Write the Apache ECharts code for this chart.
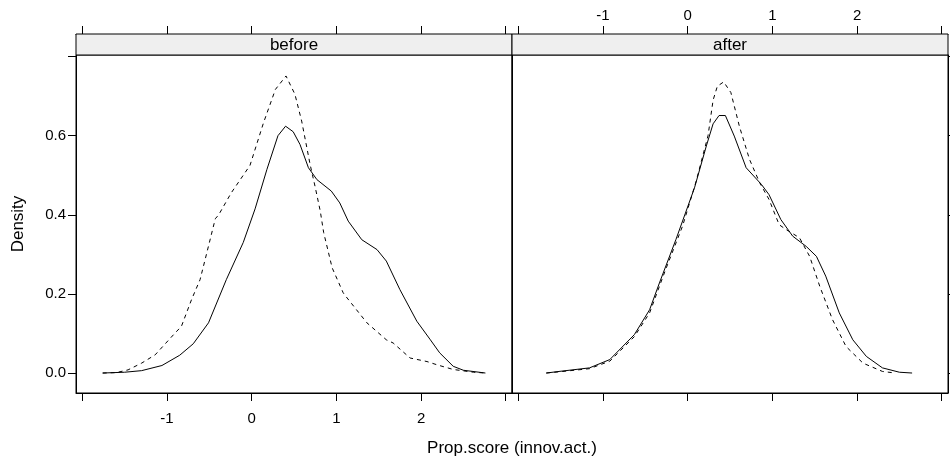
<!DOCTYPE html>
<html>
<head>
<meta charset="utf-8">
<script src="https://cdn.jsdelivr.net/npm/echarts@6/dist/echarts.min.js"></script>
<style>
html,body{margin:0;padding:0;background:#fff;}
#c{width:950px;height:465px;}
</style>
</head>
<body>
<div id="c"></div>
<script>
// Panel names
var panels = ["before", "after"];
// Tick values / labels
var xTicks = [-2, -1, 0, 1, 2, 3];
var xLabels = [-1, 0, 1, 2];
var yTicks = [0, 0.2, 0.4, 0.6, 0.8];
var yLabels = [0, 0.2, 0.4, 0.6];

// "before" panel, solid curve
var beforeSolidX = [-1.76,-1.5,-1.3,-1.06,-0.85,-0.69,-0.51,-0.30,-0.10,0.04,0.18,0.31,0.40,0.49,0.57,0.67,0.77,0.94,1.04,1.14,1.30,1.48,1.59,1.75,1.95,2.11,2.22,2.38,2.50,2.76];
var beforeSolidY = [0,0.002,0.006,0.019,0.045,0.074,0.127,0.236,0.33,0.415,0.515,0.60,0.624,0.61,0.578,0.519,0.489,0.46,0.43,0.384,0.337,0.312,0.283,0.211,0.131,0.084,0.051,0.017,0.007,0];
// "before" panel, dashed curve
var beforeDashX = [-1.76,-1.6,-1.46,-1.30,-1.14,-0.91,-0.83,-0.71,-0.61,-0.53,-0.43,-0.39,-0.24,-0.02,0.14,0.28,0.405,0.51,0.59,0.69,0.75,0.81,0.85,0.95,1.08,1.10,1.36,1.59,1.67,1.87,2.07,2.20,2.38,2.62,2.76];
var beforeDashY = [0,0.001,0.008,0.025,0.046,0.10,0.118,0.186,0.236,0.304,0.39,0.40,0.456,0.525,0.633,0.717,0.751,0.705,0.637,0.527,0.47,0.409,0.355,0.266,0.203,0.197,0.127,0.084,0.076,0.038,0.029,0.02,0.009,0.002,0];
// "after" panel, solid curve
var afterSolidX = [-1.67,-1.52,-1.16,-0.92,-0.63,-0.45,-0.33,-0.14,0.08,0.22,0.30,0.37,0.445,0.55,0.69,0.87,0.96,1.10,1.24,1.40,1.52,1.63,1.79,1.95,2.11,2.30,2.50,2.65];
var afterSolidY = [0,0.004,0.013,0.034,0.097,0.16,0.23,0.337,0.468,0.574,0.63,0.651,0.651,0.599,0.519,0.477,0.451,0.388,0.346,0.32,0.295,0.245,0.152,0.084,0.042,0.013,0.002,0];
// "after" panel, dashed curve
var afterDashX = [-1.67,-1.52,-1.16,-0.92,-0.63,-0.45,-0.26,-0.06,0.10,0.24,0.30,0.35,0.425,0.51,0.61,0.73,0.85,0.96,1.08,1.16,1.32,1.44,1.56,1.71,1.87,2.07,2.30,2.45];
var afterDashY = [0,0.003,0.011,0.030,0.092,0.152,0.262,0.372,0.485,0.60,0.69,0.725,0.736,0.709,0.624,0.54,0.481,0.439,0.375,0.363,0.342,0.295,0.219,0.135,0.067,0.025,0.004,0];

var xTitle = "Prop.score (innov.act.)";
var yTitle = "Density";

function pairs(xs, ys){ return xs.map(function(x,i){ return [x, ys[i]]; }); }

var FONT = "Liberation Sans, Arial, sans-serif";
var XMIN = -2.075, XMAX = 3.074, YMIN = -0.0505, YMAX = 0.804;
var G = [{left:76, top:55, width:436, height:338},{left:512, top:55, width:436, height:338}];
var STRIP = 21;

function xAx(grid, pos, labels, margin, offset){
  return {
    type:'value', gridIndex:grid, position:pos, offset:offset, min:XMIN, max:XMAX,
    splitLine:{show:false},
    axisLine:{show:true, onZero:false, lineStyle:{color:'#000', width:1}},
    axisTick:{show:true, inside:false, length:8, customValues:xTicks, lineStyle:{color:'#000'}},
    axisLabel:{show:labels, customValues:xLabels, margin:margin, color:'#000', fontSize:15, fontFamily:FONT,
      formatter:function(v){ return String(v); }}
  };
}
function yAx(grid, pos, labels, ticks){
  return {
    type:'value', gridIndex:grid, position:pos, min:YMIN, max:YMAX,
    splitLine:{show:false},
    axisLine:{show:true, onZero:false, lineStyle:{color:'#000', width:1}},
    axisTick:{show:ticks, inside:false, length:8, customValues:yTicks, lineStyle:{color:'#000'}},
    axisLabel:{show:labels, customValues:yLabels, margin:10, color:'#000', fontSize:15, fontFamily:FONT,
      formatter:function(v){ return v.toFixed(1); }}
  };
}

var chart = echarts.init(document.getElementById('c'), null, {renderer:'canvas'});
var solid = {color:'#000', width:1, type:'solid'};
var dash = {color:'#000', width:1, type:[4,4]};
var option = {
  animation:false,
  backgroundColor:'#fff',
  grid: G.map(function(g){ return {left:g.left, top:g.top, width:g.width, height:g.height, show:true, borderColor:'#000', borderWidth:1, backgroundColor:'transparent'}; }),
  xAxis: [
    xAx(0,'bottom',true,18,0), xAx(0,'top',false,11,STRIP),
    xAx(1,'bottom',false,18,0), xAx(1,'top',true,11,STRIP)
  ],
  yAxis: [
    yAx(0,'left',true,true), yAx(1,'left',false,false), yAx(1,'right',false,true)
  ],
  series: [
    {type:'line', xAxisIndex:0, yAxisIndex:0, data:pairs(beforeSolidX,beforeSolidY), showSymbol:false, symbol:'none', lineStyle:solid, silent:true},
    {type:'line', xAxisIndex:0, yAxisIndex:0, data:pairs(beforeDashX,beforeDashY), showSymbol:false, symbol:'none', lineStyle:dash, silent:true},
    {type:'line', xAxisIndex:2, yAxisIndex:1, data:pairs(afterSolidX,afterSolidY), showSymbol:false, symbol:'none', lineStyle:solid, silent:true},
    {type:'line', xAxisIndex:2, yAxisIndex:1, data:pairs(afterDashX,afterDashY), showSymbol:false, symbol:'none', lineStyle:dash, silent:true}
  ],
  graphic: [
    {type:'rect', shape:{x:G[0].left, y:G[0].top-STRIP, width:G[0].width, height:STRIP}, style:{fill:'#efefef', stroke:'#000', lineWidth:1}, z:10},
    {type:'rect', shape:{x:G[1].left, y:G[1].top-STRIP, width:G[1].width, height:STRIP}, style:{fill:'#efefef', stroke:'#000', lineWidth:1}, z:10},
    {type:'text', x:G[0].left+G[0].width/2, y:45.5, style:{text:panels[0], font:'17px '+FONT, fill:'#000', align:'center', verticalAlign:'middle'}, z:11},
    {type:'text', x:G[1].left+G[1].width/2, y:45.5, style:{text:panels[1], font:'17px '+FONT, fill:'#000', align:'center', verticalAlign:'middle'}, z:11},
    {type:'text', x:512, y:448, style:{text:xTitle, font:'17px '+FONT, fill:'#000', align:'center', verticalAlign:'middle'}, z:11},
    {type:'text', x:18, y:224, rotation:Math.PI/2, style:{text:yTitle, font:'17px '+FONT, fill:'#000', align:'center', verticalAlign:'middle'}, z:11}
  ]
};
chart.setOption(option);
</script>
</body>
</html>
